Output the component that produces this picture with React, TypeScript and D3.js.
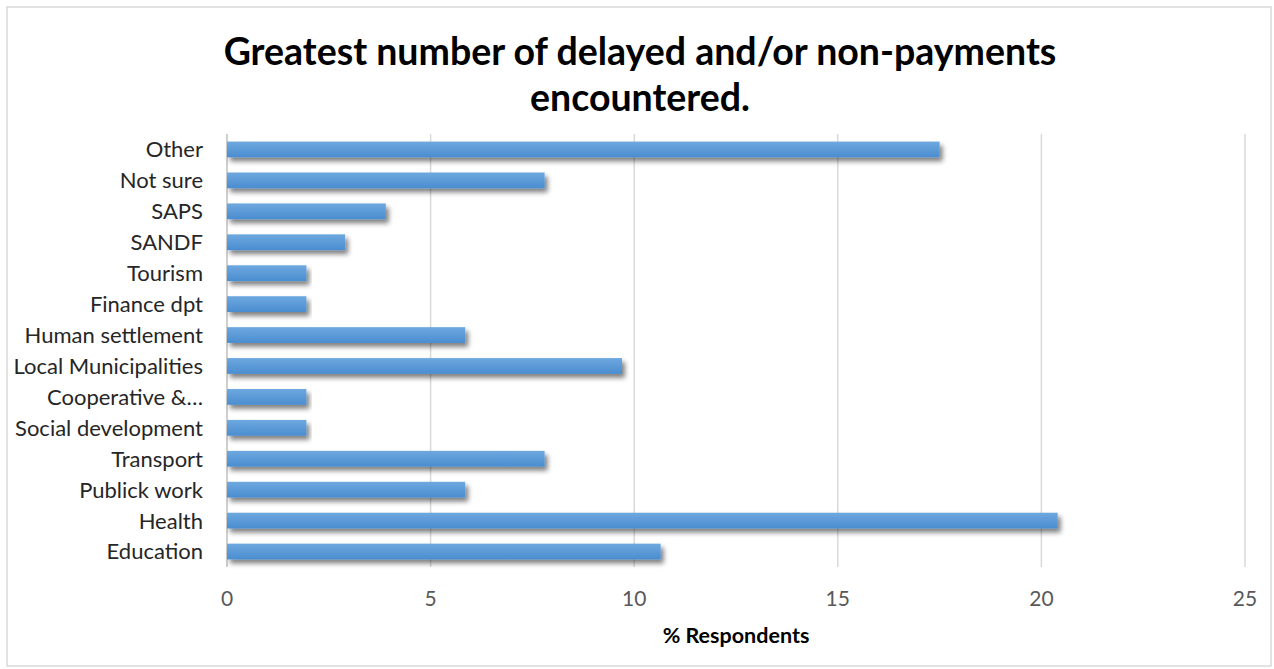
import React from "react";
import * as d3 from "d3";

const categories = [
  "Other",
  "Not sure",
  "SAPS",
  "SANDF",
  "Tourism",
  "Finance dpt",
  "Human settlement",
  "Local Municipalities",
  "Cooperative &…",
  "Social development",
  "Transport",
  "Publick work",
  "Health",
  "Education",
];
const values = [17.5, 7.8, 3.9, 2.9, 1.95, 1.95, 5.85, 9.7, 1.95, 1.95, 7.8, 5.85, 20.4, 10.65];
const xTicks = [0, 5, 10, 15, 20, 25];
const titleLines = ["Greatest number of delayed and/or non-payments", "encountered."];
const xAxisTitle = "% Respondents";

const W = 1274;
const H = 669;
const plot = { left: 227, right: 1245, top: 134, bottom: 567 };
const FONT = "Lato, 'Open Sans', sans-serif";

export default function App() {
  const x = d3.scaleLinear().domain([0, 25]).range([plot.left, plot.right]);
  const y = d3
    .scaleBand<string>()
    .domain(categories)
    .range([plot.top, plot.bottom])
    .paddingInner(0.49)
    .paddingOuter(0.245);

  return (
    <div style={{ position: "absolute", left: 0, top: 0 }}>
      <svg width={W} height={H} style={{ display: "block" }}>
        <defs>
          <linearGradient id="barGrad" x1="0" y1="0" x2="0" y2="1">
            <stop offset="0" stopColor="#6ea8df" />
            <stop offset="1" stopColor="#4a8dd0" />
          </linearGradient>
          <filter id="shadow" x="-5%" y="-60%" width="112%" height="240%">
            <feGaussianBlur in="SourceAlpha" stdDeviation="2.8" />
            <feOffset dx="2.5" dy="3.5" result="ob" />
            <feComponentTransfer>
              <feFuncA type="linear" slope="0.5" />
            </feComponentTransfer>
            <feMerge>
              <feMergeNode />
              <feMergeNode in="SourceGraphic" />
            </feMerge>
          </filter>
        </defs>
        <rect x={0} y={0} width={W} height={H} fill="#ffffff" />
        <rect x={7} y={7} width={1264} height={659} fill="none" stroke="#d9d9d9" strokeWidth={1.5} />

        {titleLines.map((t, i) => (
          <text
            key={i}
            x={640}
            y={65 + i * 46}
            textAnchor="middle"
            fontFamily={FONT}
            fontWeight={700}
            fontSize={37.5}
            fill="#000"
          >
            {t}
          </text>
        ))}

        {xTicks.map((t) => (
          <line
            key={"g" + t}
            x1={x(t)}
            x2={x(t)}
            y1={plot.top}
            y2={plot.bottom}
            stroke={t === 0 ? "#bfbfbf" : "#d9d9d9"}
            strokeWidth={1.5}
          />
        ))}

        {categories.map((c, i) => (
          <rect
            key={"b" + c}
            x={x(0)}
            y={y(c)!}
            width={x(values[i]) - x(0)}
            height={y.bandwidth()}
            fill="url(#barGrad)"
            filter="url(#shadow)"
          />
        ))}

        {categories.map((c) => (
          <text
            key={"l" + c}
            x={203}
            y={y(c)! + y.bandwidth() / 2}
            dy="0.36em"
            textAnchor="end"
            fontFamily={FONT}
            fontSize={22}
            fill="#262626"
          >
            {c}
          </text>
        ))}

        {xTicks.map((t) => (
          <text
            key={"t" + t}
            x={x(t)}
            y={606}
            textAnchor="middle"
            fontFamily={FONT}
            fontSize={21}
            fill="#595959"
          >
            {t}
          </text>
        ))}

        <text
          x={(plot.left + plot.right) / 2}
          y={643}
          textAnchor="middle"
          fontFamily={FONT}
          fontWeight={700}
          fontSize={21.5}
          fill="#000"
        >
          {xAxisTitle}
        </text>
      </svg>
    </div>
  );
}
